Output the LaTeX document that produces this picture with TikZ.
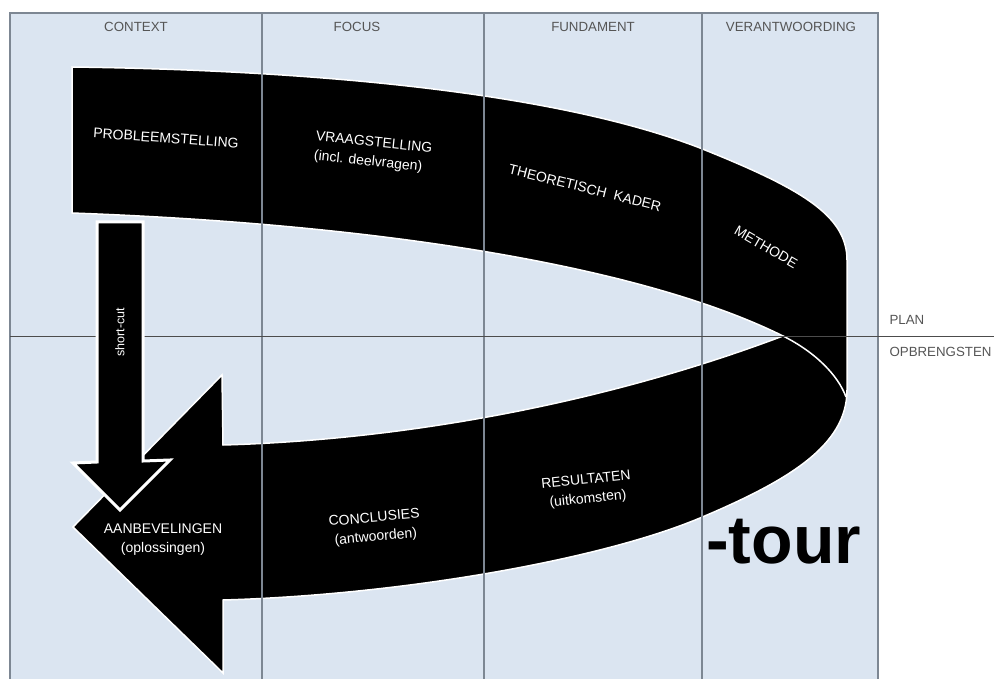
\documentclass[tikz,border=0pt]{standalone}
\usepackage{fontspec}
\setmainfont{Liberation Sans}
\definecolor{vak}{RGB}{219,229,241}
\definecolor{lijn}{RGB}{125,135,147}
\definecolor{kopgrijs}{RGB}{85,85,85}
\tikzset{
  kolomkop/.style={text=kopgrijs, font=\fontsize{13.3}{15}\selectfont},
  bandtekst/.style={text=white, font=\fontsize{14}{19}\selectfont, align=center, inner sep=0pt},
}

\begin{document}
\begin{tikzpicture}[x=1pt, y=-1pt]
\useasboundingbox (0,0) rectangle (994,679);
\clip (0,0) rectangle (994,679);

% vakken
\fill[vak] (10,13) rectangle (878,690);
\draw[lijn, line width=1.2pt] (10,690) -- (10,13) -- (878,13) -- (878,690);

% de lus
\filldraw[black, draw=white, line width=1.5pt] (72,67) .. controls (300,70) and (550,90) .. (700,148)
  .. controls (800,188) and (847,215) .. (847,260) -- (847,390)
  .. controls (847,445) and (790,480) .. (700,518)
  .. controls (600,560) and (400,595) .. (223,600)
  -- (223,673) -- (73,527) -- (222,375) -- (223,445)
  .. controls (400,440) and (600,405) .. (783,336)
  .. controls (650,270) and (400,225) .. (72,213) -- cycle;
\draw[white, line width=1.5pt] (783,336) .. controls (815,352) and (838,375) .. (846,397);

% kolommen en plan/opbrengsten
\draw[lijn, line width=1.2pt] (262,13) -- (262,690) (484,13) -- (484,690) (702,13) -- (702,690);
\draw[black!70, line width=1pt] (10,336) -- (994,336);

% short-cut
\filldraw[black, draw=white, line width=3pt] (97,222) -- (143,222) -- (143,461) -- (170,460)
  -- (120,510) -- (73,463) -- (97,462) -- cycle;

\node[kolomkop] (context) at (136,27) {CONTEXT};
\node[kolomkop] (focus) at (357,27) {FOCUS};
\node[kolomkop] (fundament) at (593,27) {FUNDAMENT};
\node[kolomkop] (verantwoording) at (791,27) {VERANTWOORDING};
\node[kolomkop, anchor=west] (plan) at (886,320) {PLAN};
\node[kolomkop, anchor=west] (opbrengsten) at (886,352) {OPBRENGSTEN};

\node[bandtekst, rotate=-4] (probleem) at (166,138) {PROBLEEMSTELLING};
\node[bandtekst, rotate=-6, align=left] (vraag) at (373,153) {VRAAGSTELLING\\(incl. deelvragen)};
\node[bandtekst, rotate=-14] (kader) at (585,188) {THEORETISCH\ \ KADER};
\node[bandtekst, rotate=-30] (methode) at (766,247) {METHODE};
\node[bandtekst, rotate=90, font=\fontsize{12.5}{14}\selectfont] (shortcut) at (120,332) {short-cut};
\node[bandtekst] (aanbevelingen) at (163,540) {AANBEVELINGEN\\(oplossingen)};
\node[bandtekst, rotate=5] (conclusies) at (375,528) {CONCLUSIES\\(antwoorden)};
\node[bandtekst, rotate=6] (resultaten) at (587,490) {RESULTATEN\\(uitkomsten)};
\node[anchor=base west, inner sep=0pt, font=\fontsize{68}{70}\selectfont\bfseries] (tour) at (706,563) {-tour};

\end{tikzpicture}
\end{document}
